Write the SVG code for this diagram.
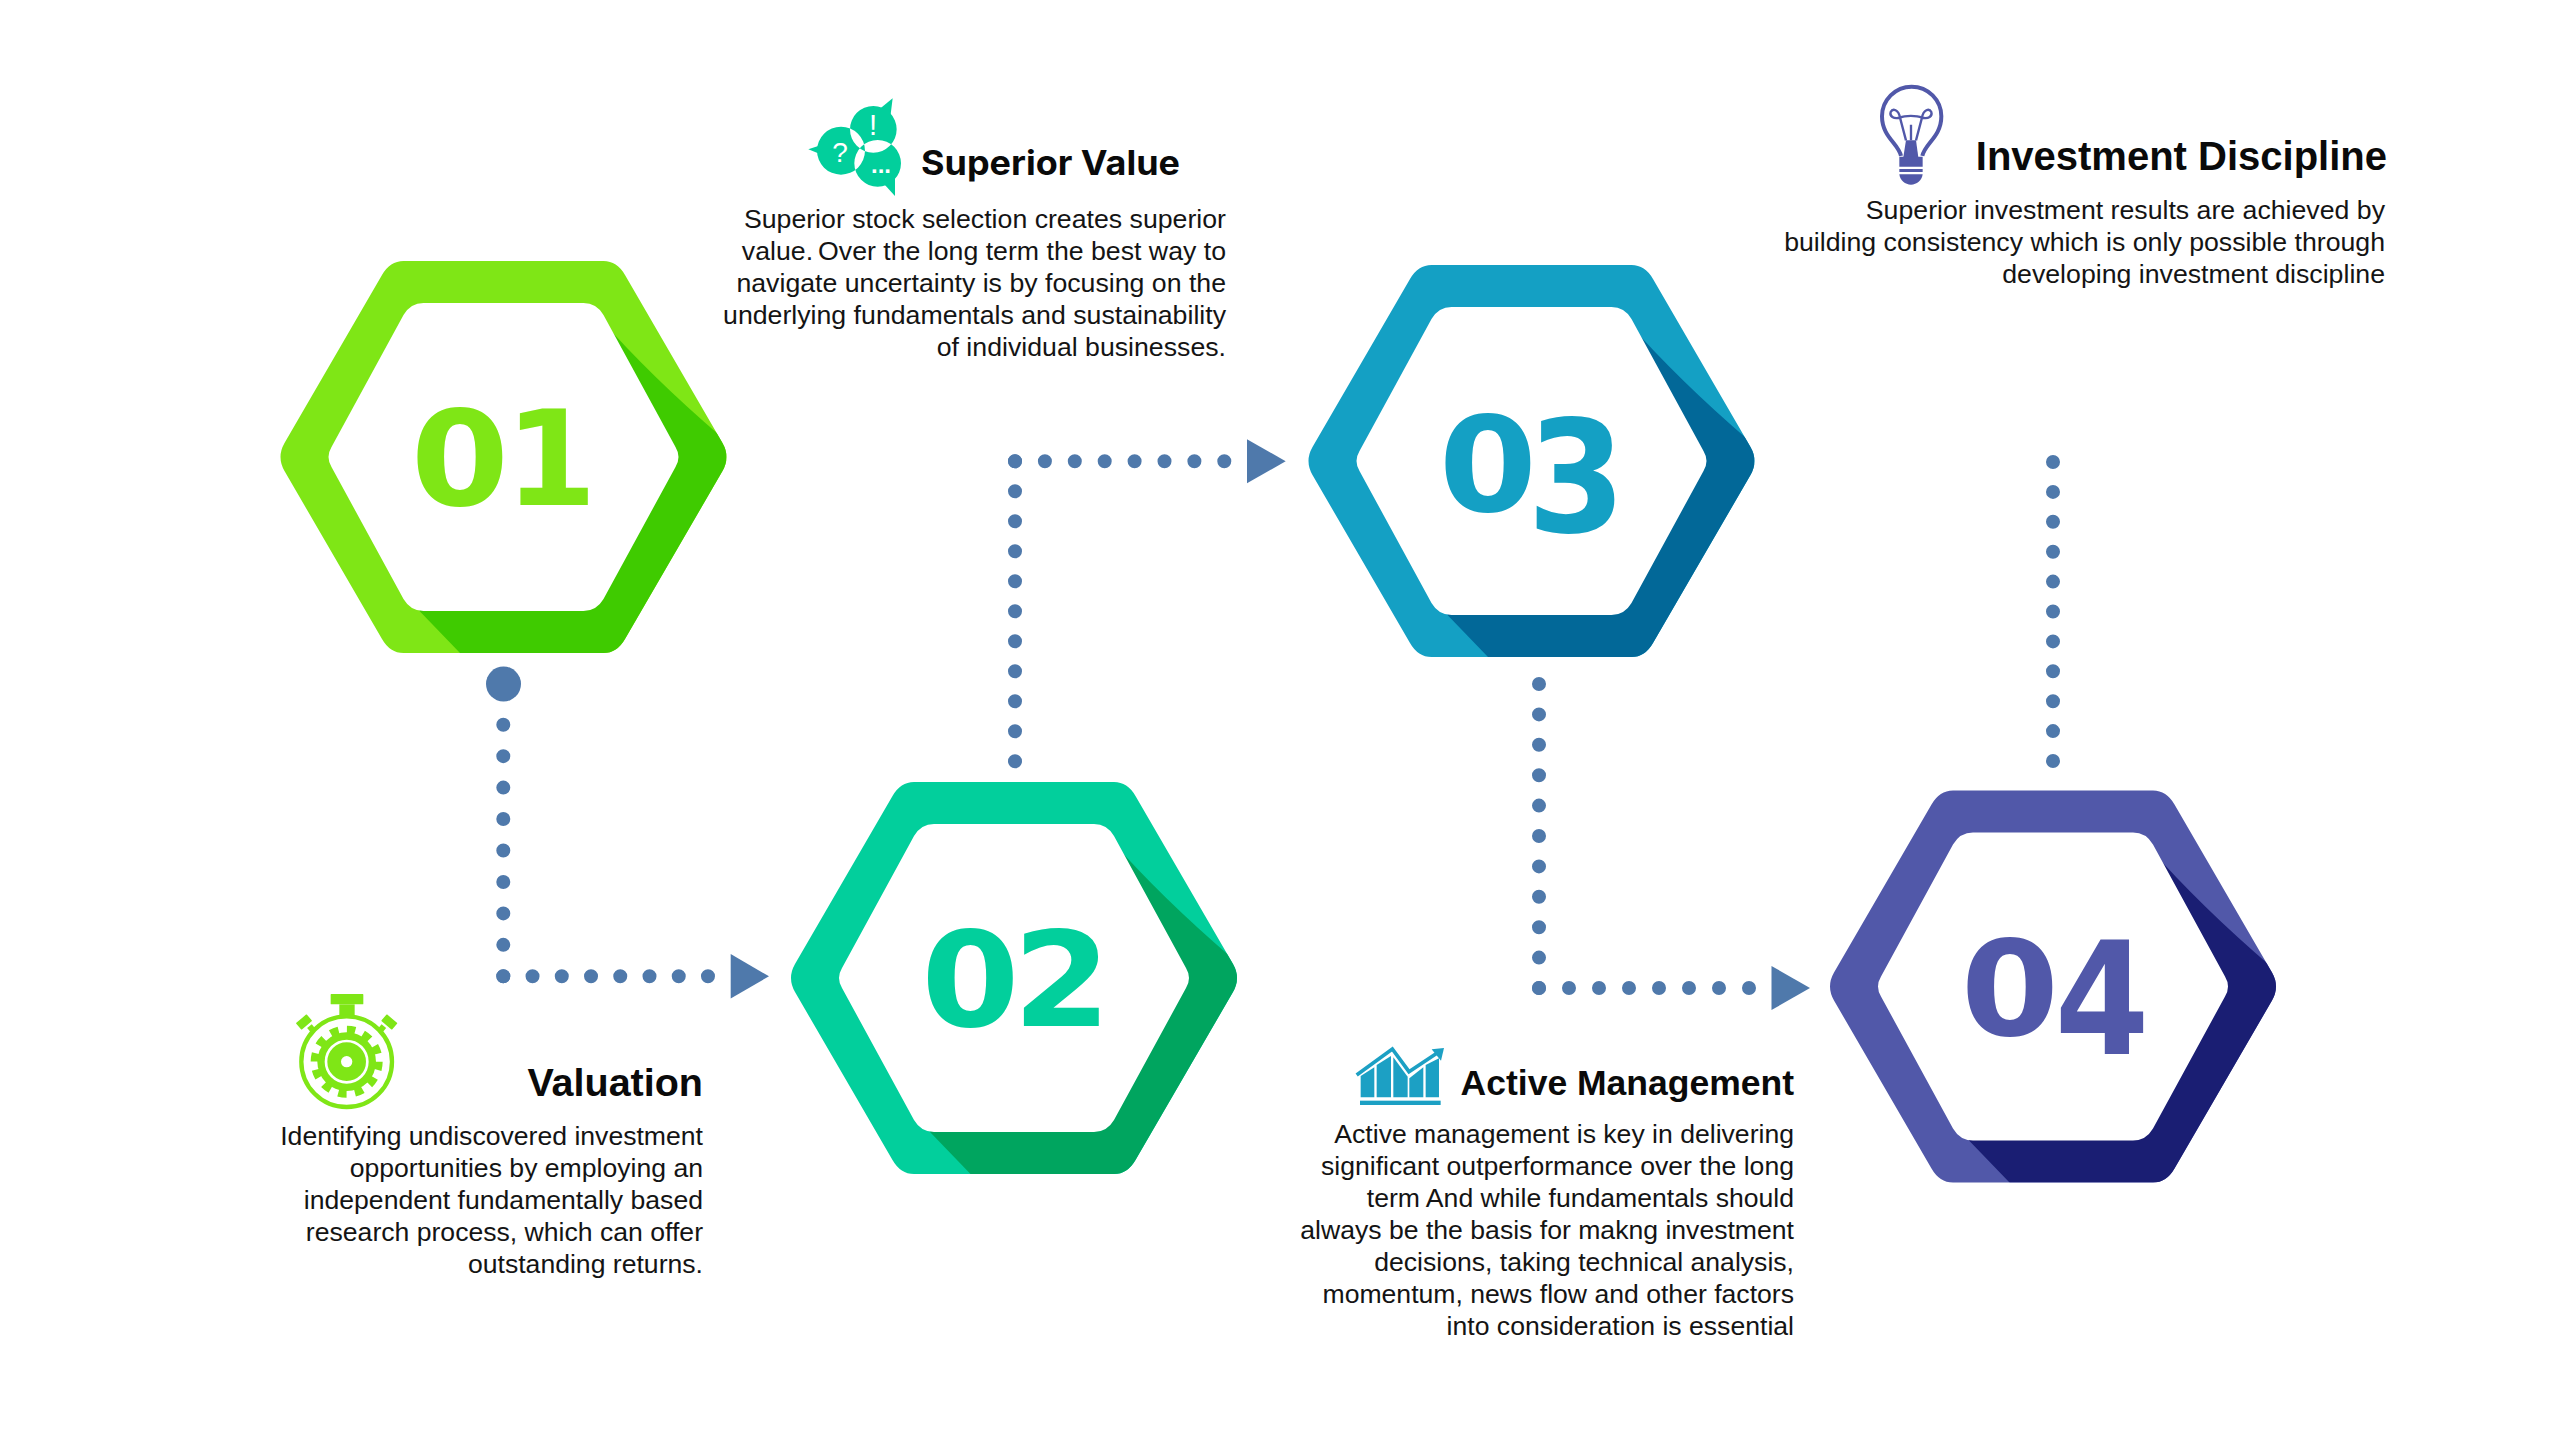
<svg xmlns="http://www.w3.org/2000/svg" width="2560" height="1440" viewBox="0 0 2560 1440">
<style>
text{font-family:"Liberation Sans",Arial,sans-serif}
.body{font-size:26.6px;fill:#141414;text-anchor:end}
.title{font-weight:700;fill:#0a0a0a;text-anchor:end}
.num{font-family:"DejaVu Sans",sans-serif;font-weight:700;font-size:132px;text-anchor:middle}
.dots{fill:none;stroke:#4f79ab;stroke-width:14;stroke-linecap:round}
.head{fill:#4f79ab}
.hole{fill:#fff}
.n1{fill:#7fe616}.s1{fill:#3fcb00}
.n2{fill:#02cf9c}.s2{fill:#00a55f}
.n3{fill:#14a0c4}.s3{fill:#026898}
.n4{fill:#5158a9}.s4{fill:#1a1e73}
</style>
<defs>
<path id="outer" d="M-100,-196 L100,-196 Q113.5,-196 121.5,-182 L219,-14 Q227,0 219,14 L121.5,182 Q113.5,196 100,196 L-100,196 Q-113.5,196 -121.5,182 L-219,14 Q-227,0 -219,-14 L-121.5,-182 Q-113.5,-196 -100,-196Z"/>
<path id="inner" d="M-80,-154 L80,-154 Q93,-154 100,-142 L172,-10 Q178,0 172,10 L100,142 Q93,154 80,154 L-80,154 Q-93,154 -100,142 L-172,10 Q-178,0 -172,-10 L-100,-142 Q-93,-154 -80,-154Z"/>
<clipPath id="hexclip"><use href="#outer"/></clipPath>
<path id="shade" clip-path="url(#hexclip)" d="M96,-139 Q148,-80 218,-20 L240,5 L240,210 L-30,210 L-84,154 L0,0Z"/>
</defs>
<rect width="2560" height="1440" fill="#fff"/>

<g id="connectors">
<circle class="head" cx="503.5" cy="684" r="17.5"/>
<path class="dots" stroke-dasharray="0 31.45" d="M503.3 724.7V977"/>
<path class="dots" stroke-dasharray="0 29.24" d="M503.3 976.3H709"/>
<polygon class="head" points="730.7,954 730.7,998.5 769,976.3"/>
<path class="dots" stroke-dasharray="0 30" d="M1015 461.3V762"/>
<path class="dots" stroke-dasharray="0 29.9" d="M1015 461.3H1225"/>
<polygon class="head" points="1247,439.3 1247,483.3 1285.7,461.3"/>
<path class="dots" stroke-dasharray="0 30.4" d="M1539 684V989"/>
<path class="dots" stroke-dasharray="0 30" d="M1539 988H1750"/>
<polygon class="head" points="1771.5,966 1771.5,1010 1810,988"/>
<path class="dots" stroke-dasharray="0 29.9" d="M2053 462V762"/>
</g>

<g id="node-01" transform="translate(503.5 457)">
<use href="#outer" class="n1"/><use href="#shade" class="s1"/><use href="#inner" class="hole"/>
<text class="num n1" transform="translate(-43.5 48) scale(1.07 1)">0</text><text class="num n1" transform="translate(47.5 48) scale(1.0 1)">1</text>
</g>
<g id="node-02" transform="translate(1014 978)">
<use href="#outer" class="n2"/><use href="#shade" class="s2"/><use href="#inner" class="hole"/>
<text class="num n2" transform="translate(-43.5 48) scale(1.07 1)">0</text><text class="num n2" transform="translate(48 48) scale(1.07 1)">2</text>
</g>
<g id="node-03" transform="translate(1531.5 461)">
<use href="#outer" class="n3"/><use href="#shade" class="s3"/><use href="#inner" class="hole"/>
<text class="num n3" transform="translate(-43.5 50) scale(1.07 1)">0</text><text class="num n3" transform="translate(45 71) scale(1.07 1.18)">3</text>
</g>
<g id="node-04" transform="translate(2053 986.5)">
<use href="#outer" class="n4"/><use href="#shade" class="s4"/><use href="#inner" class="hole"/>
<text class="num n4" transform="translate(-43 48.5) scale(1.07 1)">0</text><text class="num n4" transform="translate(49 67.5) scale(1.03 1.19)">4</text>
</g>

<g id="valuation">
<g id="icon-valuation" transform="translate(280 980) scale(.3333)" fill="#7fe616">
<rect x="152" y="42" width="98" height="31" rx="2"/>
<rect x="178" y="73" width="46" height="34"/>
<rect x="-21" y="-13" width="42" height="26" rx="2" transform="translate(72 126) rotate(-40)"/>
<rect x="-21" y="-13" width="42" height="26" rx="2" transform="translate(328 126) rotate(40)"/>
<rect x="-9" y="-15" width="18" height="30" transform="translate(98 150) rotate(-40)"/>
<rect x="-9" y="-15" width="18" height="30" transform="translate(302 150) rotate(40)"/>
<circle cx="200" cy="245" r="136" fill="#fff" stroke="#7fe616" stroke-width="13"/>
<circle cx="200" cy="245" r="88"/>
<circle cx="200" cy="245" r="96" fill="none" stroke="#7fe616" stroke-width="24" stroke-dasharray="25.1 25.17"/>
<circle cx="200" cy="245" r="62" fill="none" stroke="#fff" stroke-width="8"/>
<circle cx="200" cy="245" r="17" fill="#fff"/>
</g>
<text class="title" x="703" y="1095.5" font-size="39.5">Valuation</text>
<text class="body"><tspan x="703" y="1145">Identifying undiscovered investment</tspan><tspan x="703" y="1177">opportunities by employing an</tspan><tspan x="703" y="1209">independent fundamentally based</tspan><tspan x="703" y="1241">research process, which can offer</tspan><tspan x="703" y="1273">outstanding returns.</tspan></text>
</g>

<g id="superior-value">
<g id="icon-superior" transform="translate(780 80) scale(.3333)">
<g fill="#02cf9c">
<polygon points="338,55 295,90 330,120"/>
<polygon points="85,208 140,190 140,230"/>
<polygon points="345,348 310,310 345,290"/>
<path fill-rule="evenodd" d="M210,148a70,70 0 1,0 140,0a70,70 0 1,0 -140,0Z M111,212a72,72 0 1,0 144,0a72,72 0 1,0 -144,0Z M223,250a70,70 0 1,0 140,0a70,70 0 1,0 -140,0Z"/>
</g>
<text x="279" y="165" font-size="88" fill="#fff" text-anchor="middle">!</text>
<text x="180" y="245" font-size="84" fill="#fff" text-anchor="middle">?</text>
<text x="303" y="280" font-size="72" font-weight="700" fill="#fff" text-anchor="middle">...</text>
</g>
<text class="title" x="1180" y="175" font-size="33.5" style="font-family:Inter,'Liberation Sans',sans-serif" textLength="259" lengthAdjust="spacingAndGlyphs">Superior Value</text>
<text class="body" style="font-size:26.7px"><tspan x="1226" y="228">Superior stock selection creates superior</tspan><tspan x="1226" y="260">value.<tspan dx="5">Over the long term the best way to</tspan></tspan><tspan x="1226" y="292">navigate uncertainty is by focusing on the</tspan><tspan x="1226" y="324">underlying fundamentals and sustainability</tspan><tspan x="1226" y="356">of individual businesses.</tspan></text>
</g>

<g id="active-management">
<g id="icon-active" transform="translate(1340 1030) scale(.3333)" fill="#1ca0c4">
<rect x="60" y="212" width="242" height="13"/>
<polygon points="62,138 103,112 103,202 62,202"/>
<polygon points="110,105 153,78 153,202 110,202"/>
<polygon points="160,82 203,140 203,202 160,202"/>
<polygon points="208,145 250,112 250,202 208,202"/>
<polygon points="257,105 297,85 297,202 257,202"/>
<polyline points="50,135 157,57 207,125 295,67" fill="none" stroke="#1ca0c4" stroke-width="11"/>
<polygon points="312,54 275,58 303,92"/>
</g>
<text class="title" x="1794" y="1095" font-size="35.5">Active Management</text>
<text class="body"><tspan x="1794" y="1143">Active management is key in delivering</tspan><tspan x="1794" y="1175">significant outperformance over the long</tspan><tspan x="1794" y="1207">term And while fundamentals should</tspan><tspan x="1794" y="1239">always be the basis for makng investment</tspan><tspan x="1794" y="1271">decisions, taking technical analysis,</tspan><tspan x="1794" y="1303">momentum, news flow and other factors</tspan><tspan x="1794" y="1335">into consideration is essential</tspan></text>
</g>

<g id="investment-discipline">
<g id="icon-investment" transform="translate(1850 72) scale(.3333)">
<g fill="none" stroke="#5158a9">
<path stroke-width="12" d="M153,252 C146,215 96,195 96,133 A88,88 0 1 1 274,133 C274,195 224,215 217,252"/>
<path stroke-width="7" d="M168,205 L150,137 M198,205 L216,137 M183,205 V158"/>
<path stroke-width="7" d="M150,137 C130,142 118,132 122,120 C128,108 146,112 150,137 C165,130 200,130 216,137 C220,112 238,108 244,120 C248,132 236,142 216,137"/>
</g>
<g fill="#5158a9">
<polygon points="168,205 198,205 205,256 160,256"/>
<path d="M148,254 H218 V284 H148Z M148,291 H218 V300 H148Z M148,307 H218 C216,325 200,338 183,338 C166,338 150,325 148,307Z"/>
</g>
</g>
<text class="title" x="2387" y="170" font-size="40">Investment Discipline</text>
<text class="body" style="font-size:26.7px"><tspan x="2385" y="219">Superior investment results are achieved by</tspan><tspan x="2385" y="251">building consistency which is only possible through</tspan><tspan x="2385" y="283">developing investment discipline</tspan></text>
</g>
</svg>
